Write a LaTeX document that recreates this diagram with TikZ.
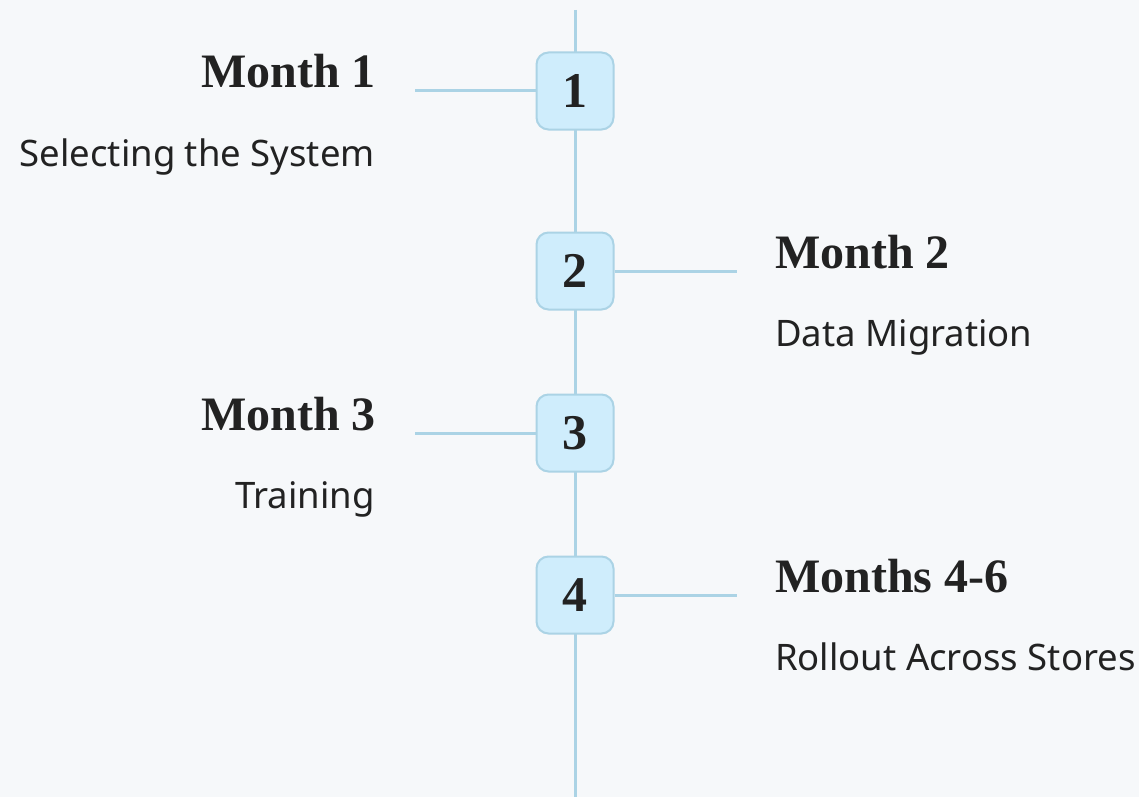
\documentclass[tikz,border=0pt]{standalone}
\usepackage{fontspec}
\setmainfont{Noto Sans}
\newfontfamily\headfont{Liberation Serif}
\usetikzlibrary{positioning}
\definecolor{bgcol}{HTML}{F6F8FA}
\definecolor{linecol}{HTML}{ABD3E5}
\definecolor{boxcol}{HTML}{CFEDFC}
\definecolor{inkcol}{HTML}{222222}

\tikzset{
  stepnum/.style={draw=linecol, line width=2pt, fill=boxcol, rounded corners=12pt,
    minimum width=77pt, minimum height=77pt, inner sep=0pt,
    font=\headfont\bfseries\fontsize{50}{56}\selectfont, text=inkcol},
  title/.style={inner sep=0pt, font=\headfont\bfseries\fontsize{48}{56}\selectfont, text=inkcol},
  desc/.style={inner sep=0pt, font=\fontsize{36.5}{42}\selectfont, text=inkcol},
  link/.style={linecol, line width=3pt}
}

\begin{document}
\begin{tikzpicture}[x=1pt, y=-1pt]
  \fill[bgcol] (0,0) rectangle (1139,797);
  \useasboundingbox (0,0) rectangle (1139,797);

  \coordinate (top) at (575,10);
  \coordinate (bottom) at (575,797);
  \draw[link] (top) -- (bottom);

  \node[stepnum] (S1) at (575,91) {1};
  \node[stepnum] (S2) at (575,271) {2};
  \node[stepnum] (S3) at (575,433) {3};
  \node[stepnum] (S4) at (575,595) {4};

  \coordinate (L1) at (415,91);
  \coordinate (R2) at (737,271);
  \coordinate (L3) at (415,433);
  \coordinate (R4) at (737,595);

  \draw[link] (L1) -- (S1.west);
  \draw[link] (S2.east) -- (R2);
  \draw[link] (L3) -- (S3.west);
  \draw[link] (S4.east) -- (R4);

  \node[title, anchor=base east] (T1) at (376,88) {Month 1};
  \node[desc, anchor=base east] (D1) at (375,166) {Selecting the System};

  \node[title, anchor=base west] (T2) at (775,268) {Month 2};
  \node[desc, anchor=base west] (D2) at (775,346) {Data Migration};

  \node[title, anchor=base east] (T3) at (376,430) {Month 3};
  \node[desc, anchor=base east] (D3) at (375,508) {Training};

  \node[title, anchor=base west] (T4) at (775,592) {Months 4-6};
  \node[desc, anchor=base west] (D4) at (775,670) {Rollout Across Stores};
\end{tikzpicture}
\end{document}
